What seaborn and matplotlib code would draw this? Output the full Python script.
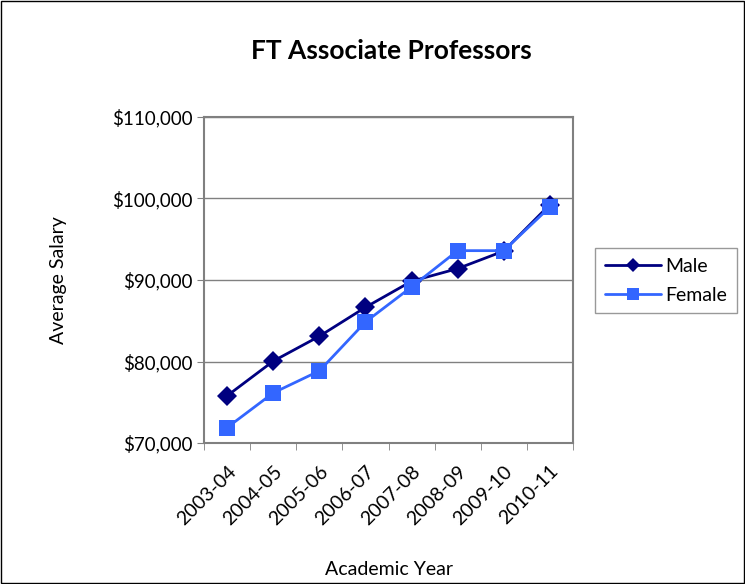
import seaborn as sns
import matplotlib.pyplot as plt
import matplotlib.ticker as mticker
import pandas as pd

years = ['2003-04', '2004-05', '2005-06', '2006-07', '2007-08', '2008-09', '2009-10', '2010-11']
male = [75800, 80050, 83100, 86650, 89850, 91400, 93550, 99250]
female = [71900, 76150, 78850, 84850, 89150, 93600, 93600, 98950]

df = pd.DataFrame({'Year': years * 2,
                   'Salary': male + female,
                   'Sex': ['Male'] * len(years) + ['Female'] * len(years)})

sns.set_style('white')
plt.rcParams['font.family'] = ['Lato', 'DejaVu Sans']
plt.rcParams['text.color'] = 'black'
plt.rcParams['xtick.color'] = 'black'
plt.rcParams['ytick.color'] = 'black'
plt.rcParams['axes.labelcolor'] = 'black'

fig = plt.figure(figsize=(7.45, 5.84), dpi=100)
ax = fig.add_axes([0.274, 0.2414, 0.495, 0.5583])

sns.lineplot(data=df, x='Year', y='Salary', hue='Sex', style='Sex',
             palette={'Male': '#000080', 'Female': '#3366FF'},
             markers={'Male': 'D', 'Female': 's'}, dashes=False,
             markersize=10, markeredgewidth=0, linewidth=2, sort=False,
             legend=False, ax=ax)
# squares a bit larger, like the original
for line in ax.lines:
    if line.get_marker() == 's':
        line.set_markersize(11)

ax.set_xlim(-0.5, len(years) - 0.5)
ax.set_ylim(70000, 110000)
ax.yaxis.set_major_locator(mticker.MultipleLocator(10000))
ax.yaxis.set_major_formatter(mticker.FuncFormatter(lambda v, p: f'${v:,.0f}'))
ax.grid(axis='y', color='#808080', linewidth=1)
ax.set_axisbelow(True)

ax.set_xticks(range(len(years)))
ax.set_xticklabels(years, rotation=45, ha='right', rotation_mode='anchor')
ax.set_xticks([i - 0.5 for i in range(len(years) + 1)], minor=True)
ax.tick_params(axis='x', which='major', length=0, pad=14, labelsize=14)
ax.tick_params(axis='x', which='minor', length=5, color='#808080', direction='out', bottom=True)
ax.tick_params(axis='y', length=5, color='#808080', direction='out', left=True, labelsize=13.5)

for s in ax.spines.values():
    s.set_color('#808080')
    s.set_linewidth(1.5)

ax.set_xlabel('Academic Year', fontsize=14, labelpad=24)
ax.set_ylabel('Average Salary', fontsize=14, labelpad=32)
fig.text(0.525, 0.912, 'FT Associate Professors', ha='center', va='center',
         fontsize=19, fontweight='bold')

handles = [plt.Line2D([], [], color='#000080', marker='D', markersize=7, markeredgewidth=0, linewidth=2),
           plt.Line2D([], [], color='#3366FF', marker='s', markersize=8, markeredgewidth=0, linewidth=2)]
leg = fig.legend(handles, ['Male', 'Female'], loc='center left',
                 bbox_to_anchor=(0.799, 0.519), fontsize=14, frameon=True,
                 fancybox=False, edgecolor='#808080', borderpad=0.5,
                 handlelength=2.9, handletextpad=0.2, labelspacing=0.6,
                 borderaxespad=0)
leg.get_frame().set_linewidth(1)

fig.patches.append(plt.Rectangle((0.001, 0.001), 0.997, 0.997, transform=fig.transFigure,
                                 fill=False, edgecolor='black', linewidth=1))

fig.savefig('out.png', dpi=100)
